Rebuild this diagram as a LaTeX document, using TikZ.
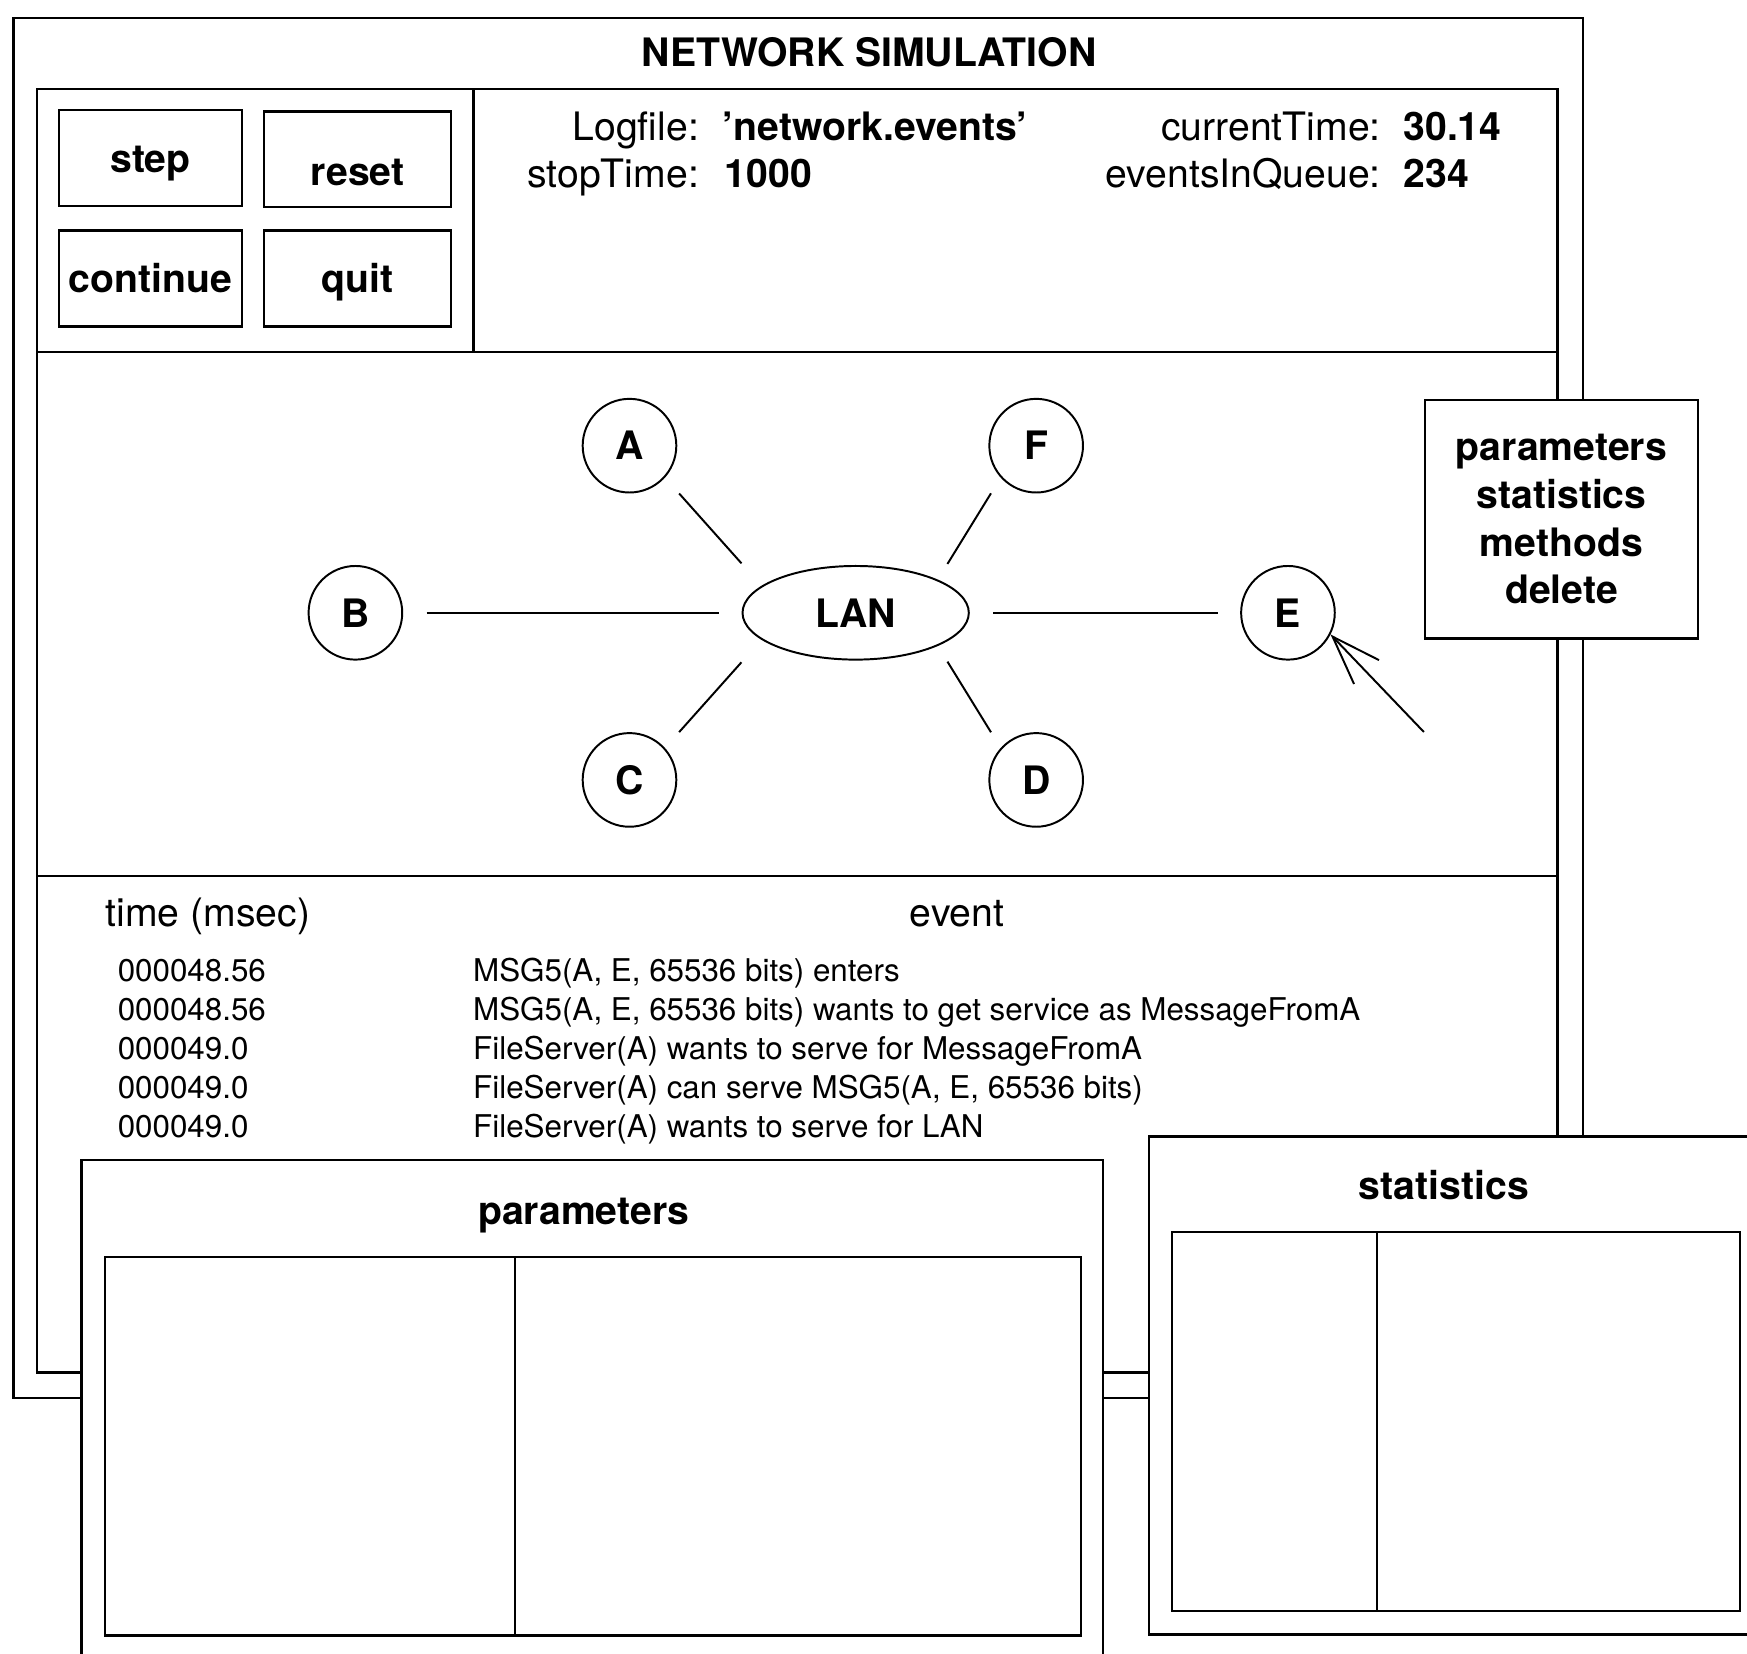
\documentclass[tikz,border=0pt]{standalone}
\usepackage{fontspec}
\setmainfont{TeX Gyre Heros}
\usetikzlibrary{shapes.geometric,arrows.meta}
\begin{document}
\begin{tikzpicture}[x=0.01cm,y=-0.01cm,
  rule/.style={line width=0.6pt},
  panel/.style={draw,fill=white,line width=0.6pt},
  big/.style={inner sep=0pt,text height=7.2pt,text depth=0pt,font=\fontsize{10}{12}\selectfont},
  bigbold/.style={big,font=\fontsize{10}{12}\selectfont\bfseries},
  small/.style={inner sep=0pt,text height=5.8pt,text depth=0pt,anchor=west,font=\fontsize{8}{10}\selectfont},
  button/.style={draw,line width=0.6pt,inner sep=0pt,minimum width=1.64cm,minimum height=0.86cm,
    text height=7.2pt,text depth=0pt,font=\fontsize{10}{12}\selectfont\bfseries},
  station/.style={circle,draw,line width=0.5pt,minimum size=0.84cm,inner sep=0pt,
    font=\fontsize{10}{12}\selectfont\bfseries},
  hub/.style={ellipse,draw,line width=0.5pt,minimum width=2.03cm,minimum height=0.84cm,inner sep=0pt,
    font=\fontsize{10}{12}\selectfont\bfseries},
  link/.style={line width=0.5pt},
]
\useasboundingbox (0,0) rectangle (1568,1484);
\clip (0,0) rectangle (1568,1484);

% main simulation window
\draw[rule] (12,16) rectangle (1421,1255);
\draw[rule] (33,80) rectangle (1398,1232);
\draw[rule] (33,316) -- (1398,316);
\draw[rule] (425,80) -- (425,316);
\draw[rule] (33,786) -- (1398,786);
\node[bigbold] (title) at (780,47) {NETWORK SIMULATION};

% control buttons
\node[button] (step) at (135,142) {step};
\node[button,minimum width=1.68cm] (reset) at (321,143) {\raisebox{-3pt}{reset}};
\node[button] (continue) at (135,250) {continue};
\node[button,minimum width=1.68cm] (quit) at (321,250) {quit};

% status fields
\node[big,anchor=east] (logkey) at (628,113) {Logfile:};
\node[bigbold,anchor=west] (logval) at (648,113) {\textquoteright network.events\textquoteright};
\node[big,anchor=east] (stopkey) at (628,156) {stopTime:};
\node[bigbold,anchor=west] (stopval) at (650,156) {1000};
\node[big,anchor=east] (curkey) at (1240,113) {currentTime:};
\node[bigbold,anchor=west] (curval) at (1259,113) {30.14};
\node[big,anchor=east] (queuekey) at (1240,156) {eventsInQueue:};
\node[bigbold,anchor=west] (queueval) at (1259,156) {234};

% network topology
\node[station] (A) at (565,400) {A};
\node[station] (F) at (930,400) {F};
\node[station] (B) at (319,550) {B};
\node[station] (E) at (1156,550) {E};
\node[station] (C) at (565,700) {C};
\node[station] (D) at (930,700) {D};
\node[hub] (LAN) at (768,550) {LAN};

\draw[link,shorten <=0.19cm,shorten >=0.27cm] (A.-42) -- (LAN.164);
\draw[link,shorten <=0.165cm,shorten >=0.165cm] (F.-138) -- (LAN.22);
\draw[link,shorten <=0.21cm,shorten >=0.2cm] (B) -- (LAN);
\draw[link,shorten <=0.21cm,shorten >=0.2cm] (LAN) -- (E);
\draw[link,shorten <=0.19cm,shorten >=0.27cm] (C.42) -- (LAN.-164);
\draw[link,shorten <=0.165cm,shorten >=0.165cm] (D.138) -- (LAN.-22);

% mouse pointer on station E
\coordinate (ptr) at (1278,657);
\draw[link,-{Straight Barb[length=0.44cm,width=0.31cm]}] (ptr) -- (E.-27);

% pop-up menu
\node[panel,minimum width=2.45cm,minimum height=2.14cm,inner sep=0pt,align=center,
  font=\fontsize{10}{12.2}\selectfont\bfseries] (menu) at (1401.5,466)
  {parameters\\statistics\\methods\\delete};

% event log
\node[big,anchor=west] (timehead) at (94,819) {time (msec)};
\node[big] (eventhead) at (859,819) {event};
\foreach \i/\t/\e in {
  0/000048.56/{MSG5(A, E, 65536 bits) enters},
  1/000048.56/{MSG5(A, E, 65536 bits) wants to get service as MessageFromA},
  2/000049.0/{FileServer(A) wants to serve for MessageFromA},
  3/000049.0/{FileServer(A) can serve MSG5(A, E, 65536 bits)},
  4/000049.0/{FileServer(A) wants to serve for LAN}}{
  \node[small] (time\i) at (105,871+35*\i) {\t};
  \node[small] (event\i) at (424,871+35*\i) {\e};
}

% parameters window
\draw[panel] (73,1041) rectangle (990,1510);
\node[bigbold] (partitle) at (524,1086) {parameters};
\draw[rule] (94,1128) rectangle (970,1468);
\draw[rule] (462,1128) -- (462,1468);

% statistics window
\draw[panel] (1031,1020) rectangle (1600,1467);
\node[bigbold] (stattitle) at (1296,1064) {statistics};
\draw[rule] (1052,1106) rectangle (1562,1446);
\draw[rule] (1236,1106) -- (1236,1446);
\end{tikzpicture}
\end{document}
